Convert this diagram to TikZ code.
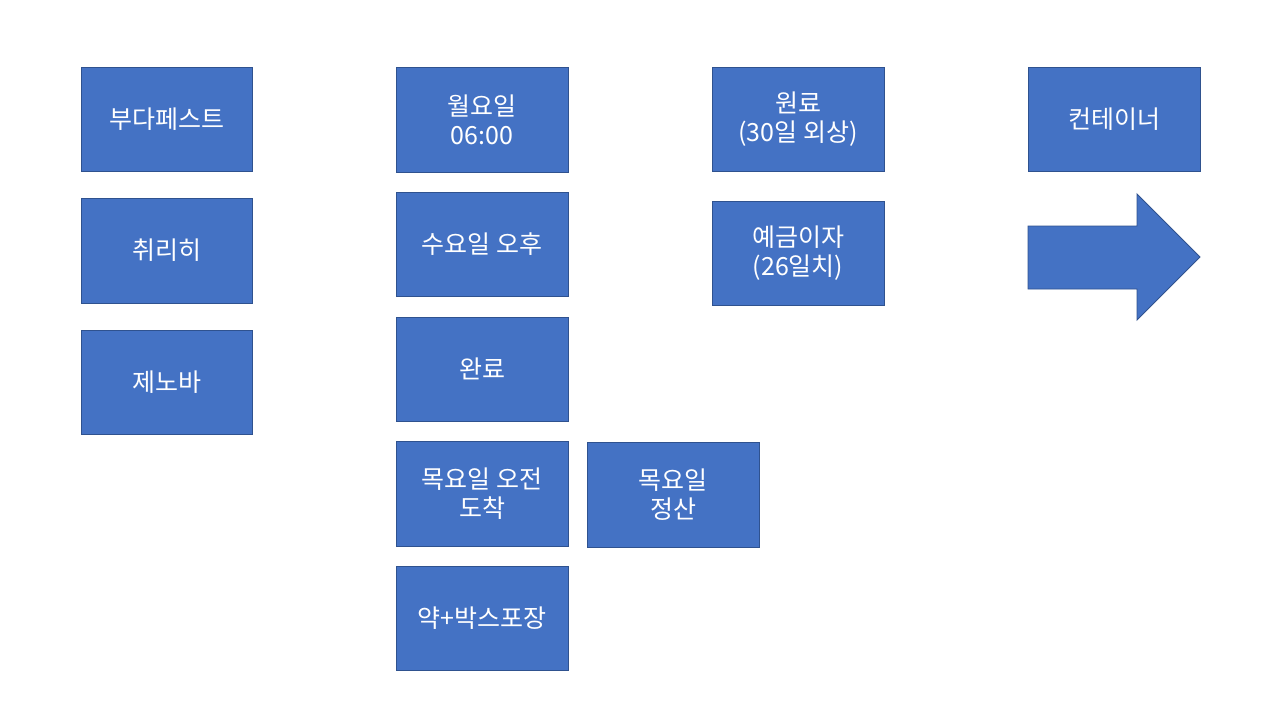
\documentclass[tikz,border=0pt]{standalone}
\usepackage{fontspec}
\setmainfont{Noto Sans CJK KR}
\newfontfamily\kr{Noto Sans CJK KR}
\definecolor{boxfill}{HTML}{4472C4}
\definecolor{boxline}{HTML}{2F528F}
\begin{document}
\begin{tikzpicture}[x=1pt,y=-1pt,
  bx/.style={draw=boxline, fill=boxfill, line width=0.9pt},
  lbl/.style={text=white, align=center, inner sep=0pt, font=\kr\fontsize{25}{29}\selectfont}]
\useasboundingbox (0,0) rectangle (1280,720);
\newcommand{\bbox}[6]{%
  \path[bx] (#2,#3) rectangle (#4,#5);
  \node[lbl] (#1) at ({(#2+#4)/2},{(#3+#5)/2}) {#6};}
\bbox{bud}{81}{67}{252}{171}{부다페스트}
\bbox{zur}{81}{198}{252}{303}{취리히}
\bbox{gen}{81}{330}{252}{434}{제노바}
\bbox{mon}{396}{67}{568}{172}{월요일\\06:00}
\bbox{wed}{396}{192}{568}{296}{수요일 오후}
\bbox{done}{396}{317}{568}{421}{완료}
\bbox{thu}{396}{441}{568}{546}{목요일 오전\\도착}
\bbox{pack}{396}{566}{568}{670}{약+박스포장}
\bbox{settle}{587}{442}{759}{547}{목요일\\정산}
\bbox{raw}{712}{67}{884}{171}{원료\\(30일 외상)}
\bbox{dep}{712}{201}{884}{305}{예금이자\\(26일치)}
\bbox{cont}{1028}{67}{1200}{171}{컨테이너}
\path[draw=boxline, fill=boxfill, line width=0.9pt]
  (1028,226) -- (1137,226) -- (1137,194) -- (1200,257) -- (1137,320) -- (1137,289) -- (1028,289) -- cycle;
\end{tikzpicture}
\end{document}
